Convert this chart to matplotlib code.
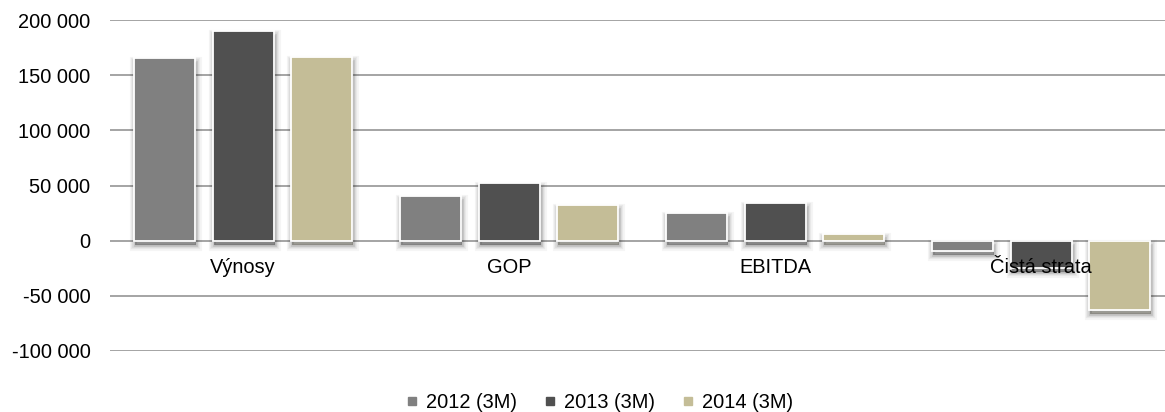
import matplotlib
matplotlib.use("Agg")
import matplotlib.pyplot as plt
import matplotlib.patheffects as pe
from matplotlib.lines import Line2D
import numpy as np

# Data
categories = ["Výnosy", "GOP", "EBITDA", "Čistá strata"]
series_names = ["2012 (3M)", "2013 (3M)", "2014 (3M)"]
values_2012 = [165300, 40500, 24800, -9300]
values_2013 = [189800, 52000, 33900, -25000]
values_2014 = [166200, 32400, 6000, -62800]
series_colors = ["#808080", "#505050", "#C4BD97"]
y_ticks = [-100000, -50000, 0, 50000, 100000, 150000, 200000]
y_tick_labels = ["-100 000", "-50 000", "0", "50 000", "100 000", "150 000", "200 000"]

plt.rcParams["font.family"] = ["Liberation Sans", "DejaVu Sans"]
FS = 14.4

W, H = 1165, 412
fig = plt.figure(figsize=(W / 100, H / 100), dpi=100)
ax = fig.add_axes([110 / W, (H - 351) / H, (W - 110) / W, (351 - 20) / H])

# soft drop shadow built from stacked translucent layers
shadow = []
for lw, a in [(8, 0.04), (6, 0.05), (4, 0.07), (2, 0.09)]:
    shadow.append(pe.Stroke(linewidth=lw, foreground="black", alpha=a, offset=(0.8, -3.0)))
shadow.append(pe.SimplePatchShadow(offset=(0.8, -3.0), shadow_rgbFace="black", alpha=0.25))
shadow.append(pe.Normal())

x = np.arange(len(categories))
step = 78.5 / 266
width = 61 / 266
all_series = [values_2012, values_2013, values_2014]
for k, (vals, col) in enumerate(zip(all_series, series_colors)):
    bars = ax.bar(x + (k - 1) * step, vals, width, color=col, edgecolor="white",
                  linewidth=1.3, zorder=3)
    for b in bars:
        b.set_path_effects(shadow)

ax.set_xlim(-0.5, -0.5 + (W - 110) / 266)
ax.set_ylim(-100000, 200000)
ax.set_yticks(y_ticks)
ax.set_yticklabels(y_tick_labels, fontsize=FS, color="black")
ax.tick_params(axis="y", length=0, pad=14.0)
ax.set_xticks([])
for s in ax.spines.values():
    s.set_visible(False)
ax.yaxis.grid(True, color="#8c8c8c", linewidth=1.1, zorder=0)
ax.set_axisbelow(True)

# category names sit just below the zero line
for i, c in enumerate(categories):
    ax.annotate(c, xy=(i, 0), xytext=(0, -27.3), textcoords="offset pixels",
                ha="center", va="center", fontsize=FS, color="black", zorder=10)

handles = [Line2D([], [], linestyle="none", marker="s", markersize=5.2,
                  markerfacecolor=c, markeredgecolor=c) for c in series_colors]
fig.legend(handles, series_names, loc="center", bbox_to_anchor=(600 / W, 10 / H),
           ncol=3, frameon=False, fontsize=FS, handlelength=0.55, handletextpad=0.4,
           columnspacing=1.4, borderpad=0)

fig.savefig("out.png", dpi=100)
